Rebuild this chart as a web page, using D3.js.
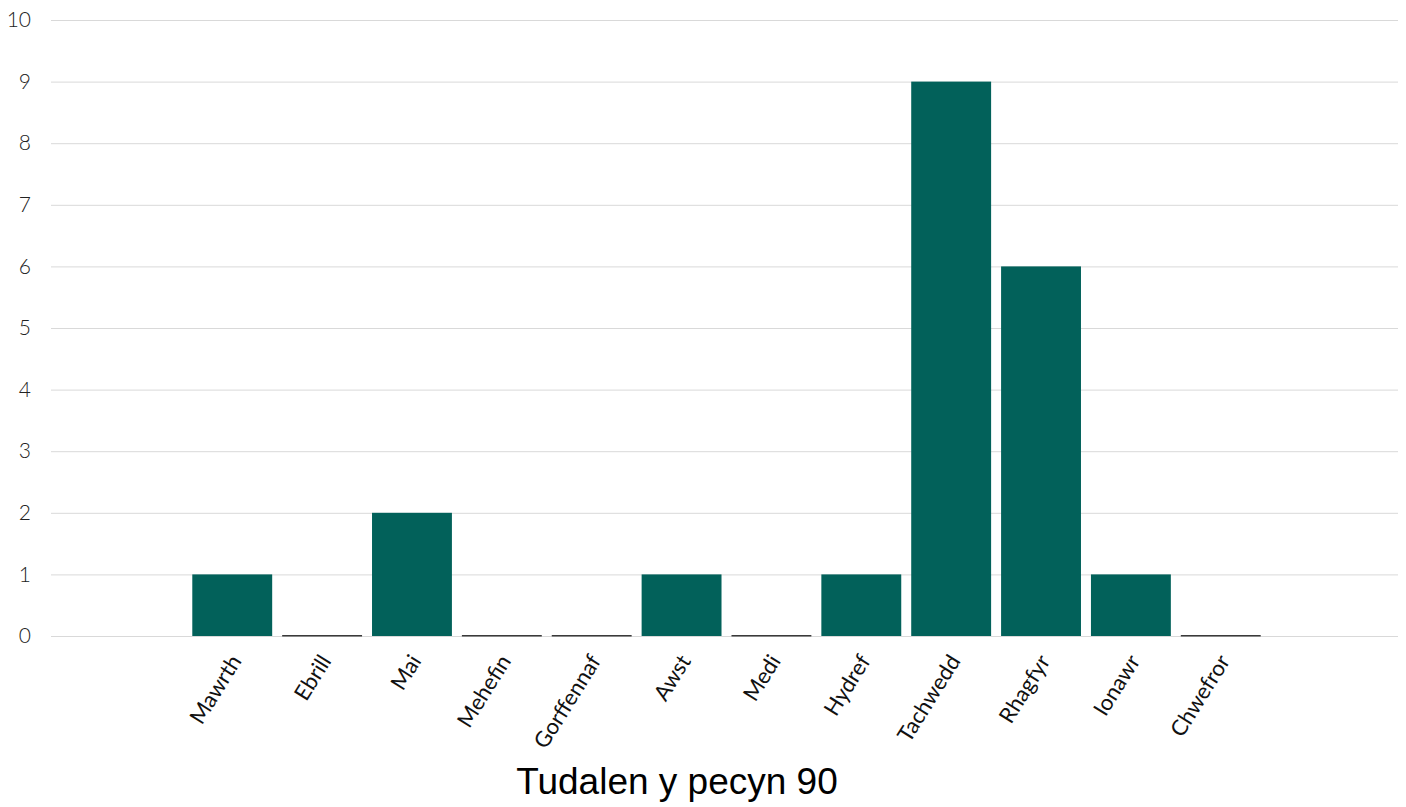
<!DOCTYPE html>
<html>
<head>
<meta charset="utf-8">
<script src="https://cdn.jsdelivr.net/npm/d3@7"></script>
<style>
  body { margin: 0; background: #fff; }
  svg { display: block; }
</style>
</head>
<body>
<svg></svg>
<script>
let months = ["Mawrth", "Ebrill", "Mai", "Mehefin", "Gorffennaf", "Awst", "Medi", "Hydref", "Tachwedd", "Rhagfyr", "Ionawr", "Chwefror"];
let counts = [1, 0, 2, 0, 0, 1, 0, 1, 9, 6, 1, 0];
let yTicks = [0, 1, 2, 3, 4, 5, 6, 7, 8, 9, 10];
let caption = "Tudalen y pecyn 90";

let width = 1406;
let height = 807;
let plot = {left: 51, right: 1398, top: 20, bottom: 636};

let barColor = "#02615a";
let gridColor = "#d9d9d9";
let labelFont = "Lato, 'Open Sans', sans-serif";

let svg = d3.select("svg")
    .attr("width", width)
    .attr("height", height);

let xScale = d3.scaleBand()
    .domain(months)
    .range([plot.left + 2, plot.right + 2])
    .paddingInner(0.111)
    .paddingOuter(1.55);

let yScale = d3.scaleLinear()
    .domain([0, 10])
    .range([plot.bottom, plot.top]);

// gridlines
svg.append("g")
    .selectAll("line")
    .data(yTicks)
    .enter()
    .append("line")
    .attr("x1", plot.left)
    .attr("x2", plot.right)
    .attr("y1", (d) => yScale(d) + 0.5)
    .attr("y2", (d) => yScale(d) + 0.5)
    .attr("stroke", gridColor)
    .attr("stroke-width", 1);

// y axis labels
let yAxis = d3.axisLeft(yScale)
    .tickValues(yTicks)
    .tickSize(0)
    .tickPadding(0)
    .tickFormat(d3.format("d"));

let yG = svg.append("g")
    .attr("transform", "translate(31,0)")
    .call(yAxis);
yG.select(".domain").remove();
yG.selectAll("text")
    .style("font-family", labelFont)
    .style("font-size", "21px")
    .style("font-weight", "300")
    .attr("fill", "#222");

// bars
svg.append("g")
    .selectAll("rect")
    .data(months)
    .enter()
    .append("rect")
    .attr("x", (d) => xScale(d))
    .attr("width", xScale.bandwidth())
    .attr("y", (d, i) => counts[i] > 0 ? yScale(counts[i]) : yScale(0) - 1)
    .attr("height", (d, i) => counts[i] > 0 ? yScale(0) - yScale(counts[i]) : 1.5)
    .attr("fill", (d, i) => counts[i] > 0 ? barColor : "#3a3a3a");

// x axis labels
let xAxis = d3.axisBottom(xScale)
    .tickSize(0)
    .tickPadding(0);

let xG = svg.append("g")
    .attr("transform", "translate(0," + plot.bottom + ")")
    .call(xAxis);
xG.select(".domain").remove();
xG.selectAll("text")
    .style("font-family", labelFont)
    .style("font-size", "22px")
    .style("font-weight", "400")
    .attr("fill", "#111")
    .attr("text-anchor", "end")
    .attr("dy", "0")
    .attr("y", 0)
    .attr("transform", "translate(10,25) rotate(-58)");

// page caption
svg.append("text")
    .attr("x", 677)
    .attr("y", 794)
    .attr("text-anchor", "middle")
    .style("font-family", "'Liberation Sans', Arial, sans-serif")
    .style("font-size", "37px")
    .attr("fill", "#000")
    .text(caption);
</script>
</body>
</html>
